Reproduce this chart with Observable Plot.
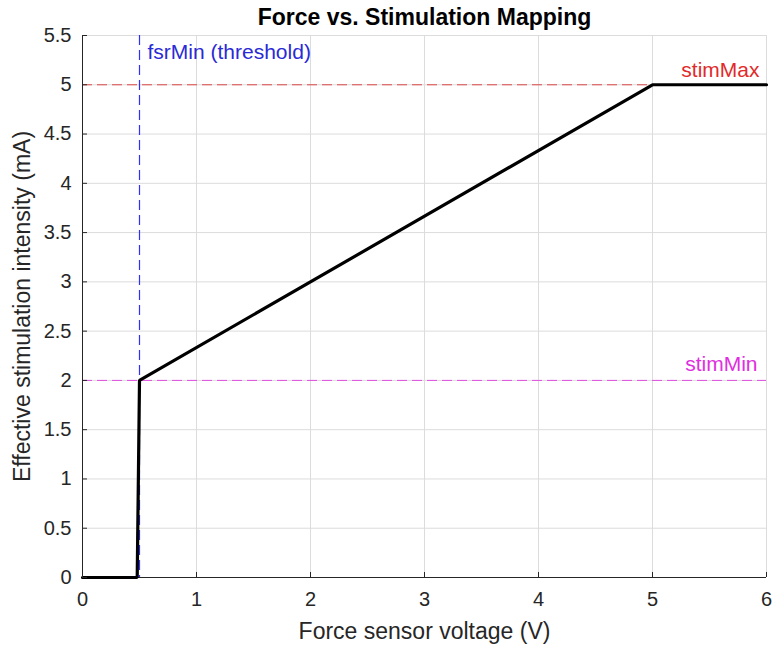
<!DOCTYPE html>
<html>
<head>
<meta charset="utf-8">
<script src="https://cdn.jsdelivr.net/npm/d3@7"></script>
<script src="https://cdn.jsdelivr.net/npm/@observablehq/plot@0.6"></script>
<style>
body { margin: 0; background: #fff; font-family: "Liberation Sans", Arial, sans-serif; }
#chart { position: relative; width: 772px; }
</style>
</head>
<body>
<div id="chart"></div>
<script>
// Mapping curve (force sensor voltage -> stimulation intensity)
const voltage = [0, 0.48, 0.5, 5, 6];
const intensity = [0, 0, 2, 5, 5];
const fsrMin = 0.5;
const stimMin = 2;
const stimMax = 5;
const xTicks = [0, 1, 2, 3, 4, 5, 6];
const yTicks = [0, 0.5, 1, 1.5, 2, 2.5, 3, 3.5, 4, 4.5, 5, 5.5];
const refLabels = [
  {text: "fsrMin (threshold)", color: "#2a2ad6"},
  {text: "stimMax", color: "#e22a2a"},
  {text: "stimMin", color: "#e02ee0"}
];

const curve = voltage.map((v, i) => ({v, s: intensity[i]}));
const fmt = d => String(d);

const chart = Plot.plot({
  width: 772,
  height: 645,
  marginLeft: 82,
  marginRight: 6,
  marginTop: 35,
  marginBottom: 68,
  style: {fontFamily: "Liberation Sans, Arial, sans-serif", fontSize: "20px", color: "#262626", background: "#fff", overflow: "visible"},
  x: {domain: [0, 6], ticks: xTicks},
  y: {domain: [0, 5.5], ticks: yTicks},
  marks: [
    Plot.gridX(xTicks, {stroke: "#dcdcdc", strokeOpacity: 1}),
    Plot.gridY(yTicks, {stroke: "#dcdcdc", strokeOpacity: 1}),
    Plot.ruleY([stimMax], {stroke: "#dc4848", strokeDasharray: "10,5", strokeWidth: 1}),
    Plot.ruleY([stimMin], {stroke: "#e050e0", strokeDasharray: "10,5", strokeWidth: 1}),
    Plot.ruleX([fsrMin], {stroke: "#2f2fff", strokeOpacity: 1, strokeDasharray: "10,5", strokeWidth: 1.2}),
    Plot.ruleX([0], {stroke: "#262626", strokeWidth: 1}),
    Plot.ruleY([0], {stroke: "#262626", strokeWidth: 1}),
    Plot.line(curve, {x: "v", y: "s", stroke: "black", strokeWidth: 3.2, strokeLinejoin: "miter"}),
    Plot.axisX(xTicks, {tickSize: -5, tickPadding: 19, tickFormat: fmt, stroke: "#262626", fill: "#262626", fontSize: 20, label: null}),
    Plot.axisY(yTicks, {tickSize: -5, tickPadding: 16, tickFormat: fmt, stroke: "#262626", fill: "#262626", fontSize: 20, label: null}),
    Plot.text([refLabels[0]], {x: fsrMin, y: 5.5, text: "text", fill: "color", textAnchor: "start", lineAnchor: "middle", dx: 8, dy: 17, fontSize: 21}),
    Plot.text([refLabels[1]], {x: 6, y: stimMax, text: "text", fill: "color", textAnchor: "end", lineAnchor: "middle", dx: -7, dy: -15, fontSize: 21}),
    Plot.text([refLabels[2]], {x: 6, y: stimMin, text: "text", fill: "color", textAnchor: "end", lineAnchor: "middle", dx: -9, dy: -16, fontSize: 21}),
    Plot.text(["Force vs. Stimulation Mapping"], {frameAnchor: "top", textAnchor: "middle", lineAnchor: "middle", dy: -18, text: d => d, fontWeight: "bold", fontSize: 23, fill: "black"}),
    Plot.text(["Force sensor voltage (V)"], {frameAnchor: "bottom", textAnchor: "middle", lineAnchor: "middle", dy: 54, text: d => d, fontSize: 23, fill: "#262626"}),
    Plot.text(["Effective stimulation intensity (mA)"], {frameAnchor: "left", textAnchor: "middle", lineAnchor: "middle", dx: -60, rotate: -90, text: d => d, fontSize: 23, fill: "#262626"})
  ]
});
document.getElementById("chart").appendChild(chart);
</script>
</body>
</html>
